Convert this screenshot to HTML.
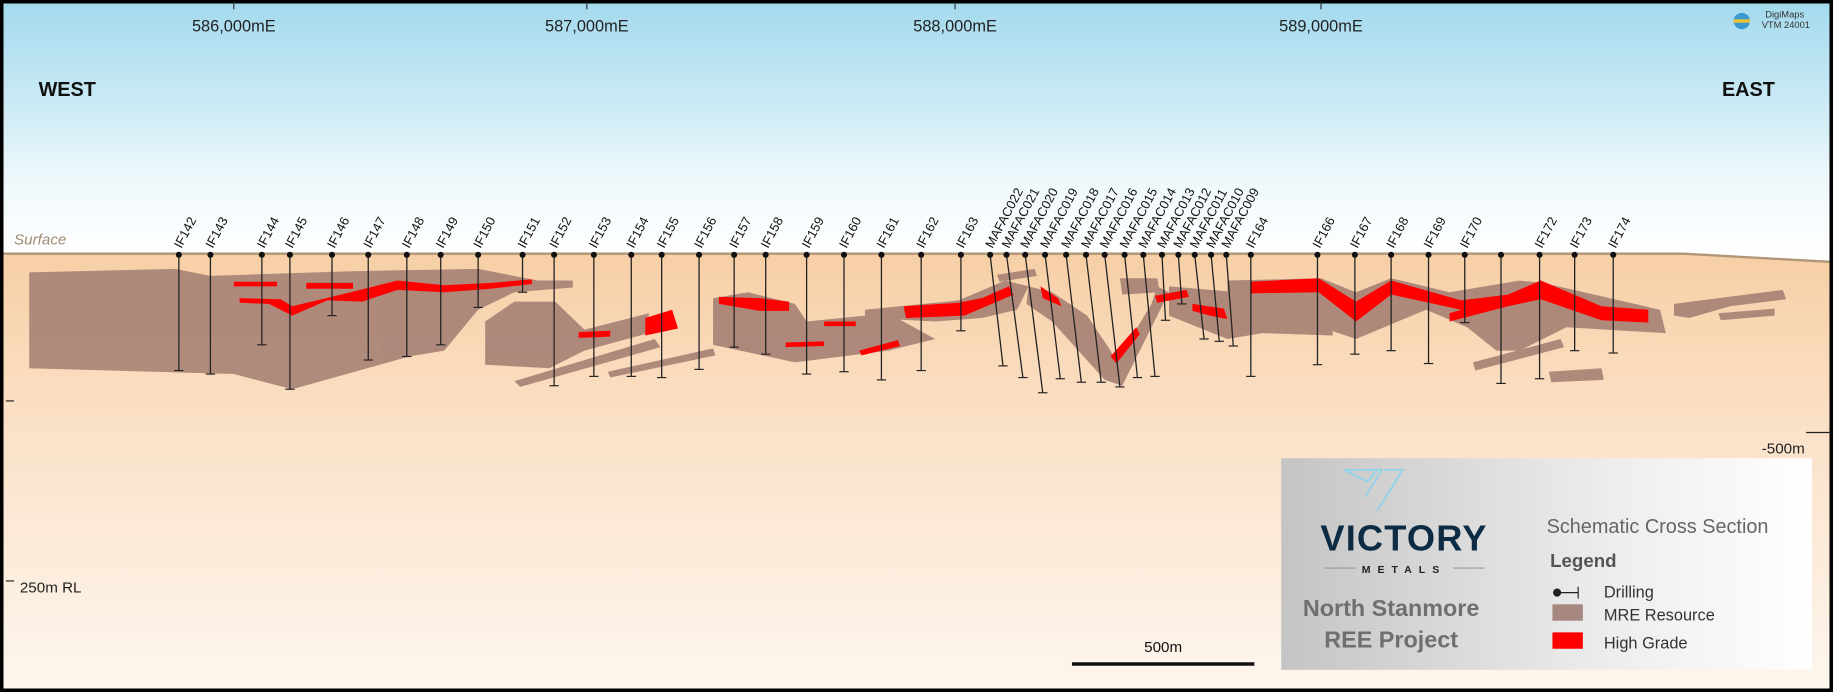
<!DOCTYPE html>
<html><head><meta charset="utf-8"><style>
html,body{margin:0;padding:0;width:1833px;height:692px;overflow:hidden;background:#000}
svg{display:block}
text{font-family:"Liberation Sans",Arial,sans-serif}
</style></head><body>
<svg id="s" width="1833" height="692" viewBox="0 0 1568 592" preserveAspectRatio="none" xmlns="http://www.w3.org/2000/svg">
<defs>
<linearGradient id="sky" gradientUnits="userSpaceOnUse" x1="0" y1="3" x2="0" y2="217"><stop offset="0" stop-color="#a4daee"/><stop offset="0.35" stop-color="#c6e8f4"/><stop offset="0.7" stop-color="#eef8fb"/><stop offset="1" stop-color="#ffffff"/></linearGradient>
<linearGradient id="gr" x1="0" y1="0" x2="0" y2="1"><stop offset="0" stop-color="#f7cfa6"/><stop offset="0.45" stop-color="#fbe3cb"/><stop offset="1" stop-color="#fdf6ee"/></linearGradient>
<linearGradient id="lg" x1="0" y1="0" x2="1" y2="0"><stop offset="0" stop-color="#c4c4c4"/><stop offset="0.6" stop-color="#ececec"/><stop offset="1" stop-color="#ffffff"/></linearGradient>
</defs>
<rect x="3" y="3" width="1562" height="586" fill="url(#sky)"/>
<polygon points="3,217 1440,217 1565,224 1565,589 3,589" fill="url(#gr)"/>
<polyline points="3,217 1440,217 1565,224" fill="none" stroke="#b09576" stroke-width="2"/>
<text x="12" y="209" font-size="13" font-style="italic" fill="#a08a70">Surface</text>
<g font-size="14" fill="#222" text-anchor="middle">
<text x="200" y="27">586,000mE</text><text x="502" y="27">587,000mE</text><text x="817" y="27">588,000mE</text><text x="1130" y="27">589,000mE</text>
</g>
<g stroke="#333" stroke-width="1"><line x1="200" y1="2" x2="200" y2="8"/><line x1="502" y1="2" x2="502" y2="8"/><line x1="817" y1="2" x2="817" y2="8"/><line x1="1130" y1="2" x2="1130" y2="8"/></g>
<text x="33" y="82" font-size="17" font-weight="bold" fill="#111">WEST</text>
<text x="1473" y="82" font-size="17" font-weight="bold" fill="#111">EAST</text>
<circle cx="1490" cy="18" r="7" fill="#3a9ad0"/><path d="M1483,18 h14" stroke="#e9c23a" stroke-width="3"/>
<text x="1510" y="15" font-size="8" fill="#333">DigiMaps</text><text x="1507" y="24" font-size="8" fill="#333">VTM 24001</text>
<g fill="#a47f73" opacity="0.88">
<polygon points="25,233 150,230 180,236 300,232 409,230 460,240 490,240 490,246 440,250 409,265 380,300 350,305 250,333 200,320 25,315"/>
<polygon points="415,275 440,258 475,258 500,282 555,268 555,285 500,300 470,315 415,312"/>
<polygon points="440,326 560,290 565,297 445,331"/><polygon points="520,318 610,298 612,304 522,323"/>
<polygon points="610,255 640,250 680,260 690,275 760,268 800,290 760,300 680,310 610,295"/>
<polygon points="740,265 820,257 860,240 880,245 870,265 840,272 800,275 740,272"/>
<polygon points="853,235 885,230 887,236 855,241"/>
<polygon points="880,245 900,250 930,270 950,300 955,310 985,260 990,245 1000,250 960,330 945,325 900,275 878,260"/>
<polygon points="958,238 990,238 992,250 960,252"/>
<polygon points="1000,245 1060,250 1070,265 1110,275 1140,280 1140,287 1080,285 1050,290 1000,270"/>
<polygon points="1050,240 1130,238 1160,250 1190,238 1240,250 1300,240 1320,242 1420,265 1425,285 1340,280 1300,300 1280,300 1255,280 1220,265 1160,290 1130,280 1050,270"/>
<polygon points="1260,310 1335,290 1338,297 1262,317"/><polygon points="1325,318 1370,315 1372,325 1327,327"/>
<polygon points="1432,260 1470,255 1525,248 1528,256 1480,262 1445,272 1432,270"/><polygon points="1470,268 1518,264 1518,270 1472,274"/>
</g>
<g fill="#ff0000">
<polygon points="205,255 240,256 250,262 300,250 340,240 380,244 420,242 455,239 455,243 420,247 380,250 340,248 310,258 280,257 250,270 230,260 205,259"/>
<rect x="200" y="241" width="37" height="4"/><rect x="262" y="242" width="40" height="5"/>
<polygon points="495,284 522,283 522,288 495,289"/>
<polygon points="552,272 575,265 580,281 552,287"/>
<polygon points="615,254 650,255 675,258 675,266 650,266 615,260"/>
<rect x="705" y="275" width="27" height="4"/><polygon points="672,293 705,292 705,296 672,297"/>
<polygon points="735,300 768,291 770,296 737,304"/>
<polygon points="773,262 820,259 840,255 863,245 867,252 825,270 775,272"/>
<polygon points="890,245 905,255 908,262 892,255"/>
<polygon points="950,305 972,280 975,286 955,311"/>
<polygon points="988,253 1015,248 1017,254 990,259"/>
<polygon points="1020,260 1047,264 1050,273 1035,270 1020,266"/>
<polygon points="1070,241 1128,238 1160,258 1190,240 1250,257 1290,252 1318,240 1370,262 1410,265 1410,276 1370,274 1318,256 1290,262 1240,275 1240,268 1250,265 1190,252 1160,275 1128,250 1070,251"/>
</g>
<g id="holes"></g>
<g stroke="#222" stroke-width="1"><line x1="5" y1="343" x2="12" y2="343"/><line x1="1545" y1="370" x2="1566" y2="370"/><line x1="5" y1="497" x2="12" y2="497"/></g>
<text x="1507" y="388" font-size="13" fill="#222">-500m</text>
<text x="17" y="507" font-size="13" fill="#222">250m RL</text>
<rect x="1096" y="392" width="454" height="181" fill="url(#lg)"/>
<g fill="none" stroke="#8fd3ec" stroke-width="1.5"><path d="M1150,402 L1178,402 L1170,412 Z"/><path d="M1166,402 L1182,402 L1168,425"/><path d="M1184,402 L1200,402 L1178,437"/></g>
<text x="1201" y="471" font-size="31" font-weight="bold" fill="#0d2c44" text-anchor="middle" letter-spacing="1">VICTORY</text>
<line x1="1133" y1="486" x2="1160" y2="486" stroke="#999"/><line x1="1243" y1="486" x2="1270" y2="486" stroke="#999"/>
<text x="1201" y="490" font-size="9" font-weight="bold" fill="#222" text-anchor="middle" letter-spacing="6">METALS</text>
<text x="1190" y="527" font-size="20" font-weight="bold" fill="#6f6f6f" text-anchor="middle">North Stanmore</text>
<text x="1190" y="554" font-size="20" font-weight="bold" fill="#6f6f6f" text-anchor="middle">REE Project</text>
<text x="1323" y="456" font-size="17" fill="#666">Schematic Cross Section</text>
<text x="1326" y="485" font-size="16" font-weight="bold" fill="#555">Legend</text>
<circle cx="1332" cy="507" r="3.5" fill="#222"/><line x1="1332" y1="507" x2="1350" y2="507" stroke="#222"/><line x1="1350" y1="502" x2="1350" y2="512" stroke="#222"/>
<text x="1372" y="511" font-size="14" fill="#333">Drilling</text>
<rect x="1328" y="517" width="26" height="14" fill="#a68880"/><text x="1372" y="531" font-size="14" fill="#333">MRE Resource</text>
<rect x="1328" y="541" width="26" height="14" fill="#ff0000"/><text x="1372" y="555" font-size="14" fill="#333">High Grade</text>
<line x1="917" y1="568" x2="1073" y2="568" stroke="#111" stroke-width="3"/>
<text x="995" y="558" font-size="13" fill="#111" text-anchor="middle">500m</text>
</svg>
<script>
var H=[["IF142",153,153,317],["IF143",180,180,320],["IF144",224,224,295],["IF145",248,248,333],["IF146",284,284,270],["IF147",315,315,308],["IF148",348,348,305],["IF149",377,377,295],["IF150",409,409,263],["IF151",447,447,250],["IF152",474,474,330],["IF153",508,508,322],["IF154",540,540,322],["IF155",566,566,323],["IF156",598,598,316],["IF157",628,628,297],["IF158",655,655,303],["IF159",690,690,320],["IF160",722,722,318],["IF161",754,754,325],["IF162",788,788,317],["IF163",822,822,283],["MAFAC022",847,858,313],["MAFAC021",861,875,323],["MAFAC020",877,892,336],["MAFAC019",894,907,324],["MAFAC018",912,925,327],["MAFAC017",929,942,327],["MAFAC016",945,958,331],["MAFAC015",962,973,323],["MAFAC014",978,988,322],["MAFAC013",994,997,274],["MAFAC012",1008,1011,260],["MAFAC011",1022,1030,290],["MAFAC010",1036,1043,292],["MAFAC009",1049,1055,296],["IF164",1070,1070,322],["IF166",1127,1127,312],["IF167",1159,1159,303],["IF168",1190,1190,300],["IF169",1222,1222,311],["IF170",1253,1253,276],["",1284,1284,328],["IF172",1317,1317,324],["IF173",1347,1347,300],["IF174",1380,1380,302]];
var s="";H.forEach(function(h){var x=h[1],y=218;s+='<line x1="'+x+'" y1="'+y+'" x2="'+h[2]+'" y2="'+h[3]+'" stroke="#222" stroke-width="1.1"/>';s+='<line x1="'+(h[2]-4)+'" y1="'+h[3]+'" x2="'+(h[2]+4)+'" y2="'+h[3]+'" stroke="#222"/>';s+='<circle cx="'+x+'" cy="'+y+'" r="2.6" fill="#111"/>';if(h[0])s+='<text x="'+(x+2)+'" y="'+(y-5)+'" font-size="11" fill="#111" transform="rotate(-62 '+(x+2)+' '+(y-5)+')">'+h[0]+'</text>';});
document.getElementById("holes").innerHTML=s;
</script>
</body></html>
